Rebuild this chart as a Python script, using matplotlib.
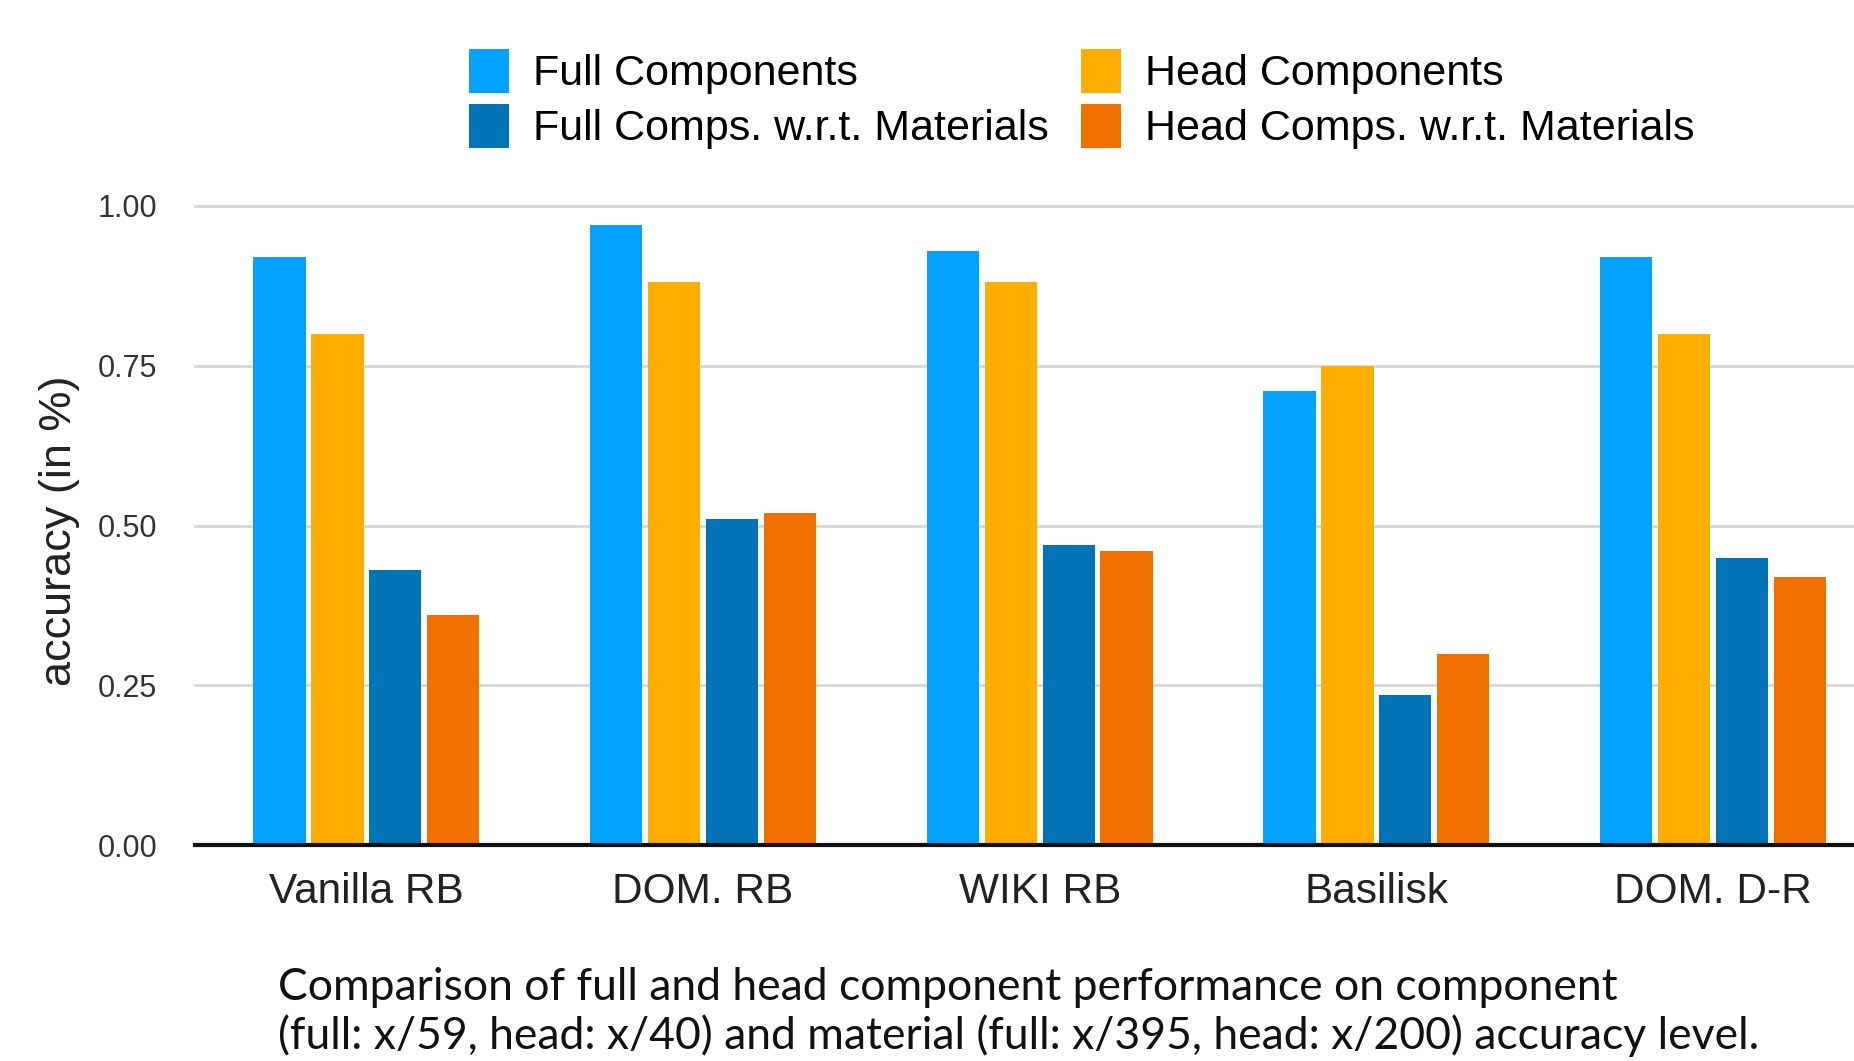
import numpy as np
import matplotlib
matplotlib.use("Agg")
import matplotlib.pyplot as plt
from matplotlib.patches import Patch

# data
systems = ["Vanilla RB", "DOM. RB", "WIKI RB", "Basilisk", "DOM. D-R"]
series_names = ["Full Components", "Head Components",
                "Full Comps. w.r.t. Materials", "Head Comps. w.r.t. Materials"]
full_comp = [0.92, 0.97, 0.93, 0.71, 0.92]
head_comp = [0.80, 0.88, 0.88, 0.75, 0.80]
full_mat = [0.43, 0.51, 0.47, 0.235, 0.45]
head_mat = [0.36, 0.52, 0.46, 0.30, 0.42]
y_ticks = [0.00, 0.25, 0.50, 0.75, 1.00]

caption = ("Comparison of full and head component performance on component\n"
           "(full: x/59, head: x/40) and material (full: x/395, head: x/200) accuracy level.")

colors = ["#03A2FE", "#FDAE00", "#0273B6", "#F07000"]

plt.rcParams["font.family"] = ["Liberation Sans", "DejaVu Sans"]

fig = plt.figure(figsize=(18.54, 10.61), dpi=100)
ax = fig.add_axes([0.105, 0.2032, 0.9116, 0.6029])

x = np.arange(len(systems))
slot = 0.172
width = 0.155
values = [full_comp, head_comp, full_mat, head_mat]
for i, vals in enumerate(values):
    ax.bar(x + (i - 1.5) * slot, vals, width, color=colors[i], zorder=3)

ax.set_xlim(-0.51, 4.51)
ax.set_ylim(0, 1.0)
ax.set_yticks(y_ticks)
ax.set_yticklabels([f"{t:.2f}" for t in y_ticks], fontsize=22, color="#333333")
ax.set_xticks(x)
ax.set_xticklabels(systems, fontsize=30.5, color="#222222")
ax.tick_params(axis="both", length=0)
ax.tick_params(axis="y", pad=27)
ax.tick_params(axis="x", pad=19)

ax.grid(axis="y", color="#d6d6d6", linewidth=2, zorder=0, clip_on=False)
for s in ["top", "right", "left"]:
    ax.spines[s].set_visible(False)
ax.spines["bottom"].set_linewidth(3)
ax.spines["bottom"].set_color("#111111")
ax.spines["bottom"].set_zorder(4)

fig.text(0.032, 0.5, "accuracy (in %)", rotation=90, ha="center", va="center",
         fontsize=32.5, color="#222222")

# legend: column-major, so full series first
order = [0, 2, 1, 3]
handles = [Patch(facecolor=colors[i], edgecolor="none") for i in order]
labels = [series_names[i] for i in order]
fig.legend(handles, labels, ncol=2, loc="upper left",
           bbox_to_anchor=(0.253, 0.954), frameon=False, fontsize=31,
           handlelength=0.93, handleheight=1.2, handletextpad=0.55,
           columnspacing=0.75, labelspacing=0.22, borderaxespad=0, borderpad=0)

fig.text(0.150, 0.004, caption, ha="left", va="bottom", fontsize=32,
         family=["Lato", "DejaVu Sans"], color="#111111", linespacing=1.17)

fig.savefig("out.png", dpi=100)
plt.close(fig)
